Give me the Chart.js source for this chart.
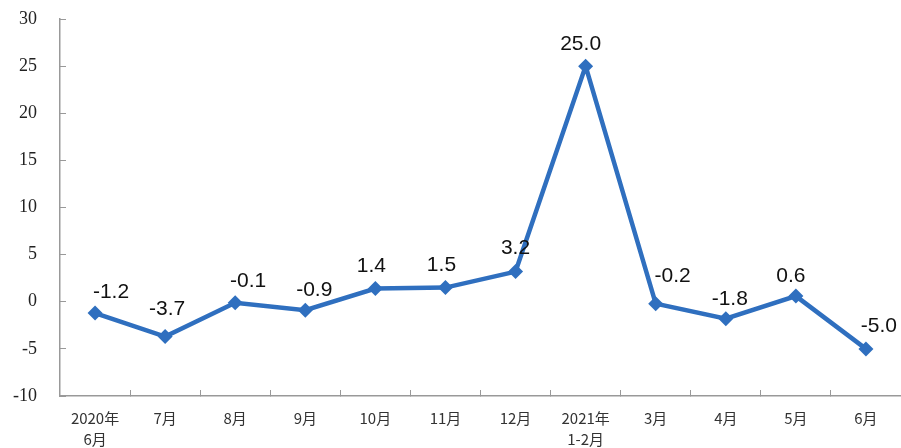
<!DOCTYPE html>
<html>
<head>
<meta charset="utf-8">
<script src="https://cdn.jsdelivr.net/npm/chart.js@4"></script>
<style>
  html, body { margin: 0; padding: 0; background: #fff; }
  #wrap { width: 901px; height: 448px; }
</style>
</head>
<body>
<div id="wrap"><canvas id="lineChart"></canvas></div>
<script>
const categories = [
  ['2020年', '6月'], '7月', '8月', '9月', '10月', '11月', '12月',
  ['2021年', '1-2月'], '3月', '4月', '5月', '6月'
]
const values = [-1.2, -3.7, -0.1, -0.9, 1.4, 1.5, 3.2, 25.0, -0.2, -1.8, 0.6, -5.0]
const yMin = -10
const yMax = 30
const yStep = 5

// ラベルの横ずれ (px) : 元図では手で少しずらしてある
const labelShiftX = [16, 2, 13, 9, -4, -4, 0, -5, 17, 4, -5, 13]
const labelShiftY = [-21, -27, -21, -20, -22, -22, -23, -22, -27, -20, -20, -23]

// 点の上に数値を描く
const valueLabels = {
  id: 'valueLabels',
  afterDatasetsDraw(chart) {
    const { ctx } = chart
    const meta = chart.getDatasetMeta(0)
    ctx.save()
    ctx.font = '21px "Liberation Sans", Arial, sans-serif'
    ctx.fillStyle = '#111'
    ctx.textAlign = 'center'
    ctx.textBaseline = 'middle'
    meta.data.forEach((pt, i) => {
      ctx.fillText(values[i].toFixed(1), pt.x + labelShiftX[i], pt.y + labelShiftY[i])
    })
    ctx.restore()
  }
}

document.addEventListener('DOMContentLoaded', () => {
  const ctx = document.querySelector('#lineChart')

  new Chart(ctx, {
    type: 'line',
    data: {
      labels: categories,
      datasets: [{
        data: values,
        borderColor: '#2F6FBF',
        backgroundColor: '#2F6FBF',
        borderWidth: 4.5,
        pointStyle: 'rectRot',
        pointRadius: 7.5,
        pointHoverRadius: 7.5,
        pointBorderWidth: 0,
        tension: 0
      }]
    },
    options: {
      responsive: true,
      maintainAspectRatio: false,
      animation: false,
      layout: { autoPadding: false, padding: { top: 19, right: 0, left: 0, bottom: 0 } },
      plugins: {
        legend: { display: false },
        tooltip: { enabled: false }
      },
      scales: {
        x: {
          offset: true,
          afterFit(s) {
            s.height = 52
            s.paddingLeft = 0
            s.paddingRight = 0
          },
          grid: {
            offset: true,
            drawOnChartArea: false,
            tickLength: -6,
            color: '#999'
          },
          border: { color: '#999', width: 1.5 },
          ticks: {
            color: '#333',
            padding: 17,
            maxRotation: 0,
            autoSkip: false,
            font: { family: '"Noto Sans CJK SC", sans-serif', size: 15, lineHeight: 1.45 }
          }
        },
        y: {
          min: yMin,
          max: yMax,
          afterFit(s) {
            s.width = 60
            s.paddingTop = 0
            s.paddingBottom = 0
          },
          grid: {
            drawOnChartArea: false,
            tickLength: -6,
            color: '#999'
          },
          border: { color: '#999', width: 1.5 },
          ticks: {
            stepSize: yStep,
            color: '#222',
            padding: 29,
            font: { family: '"Liberation Serif", "Times New Roman", serif', size: 18 }
          }
        }
      }
    },
    plugins: [valueLabels]
  })
})
</script>
</body>
</html>
